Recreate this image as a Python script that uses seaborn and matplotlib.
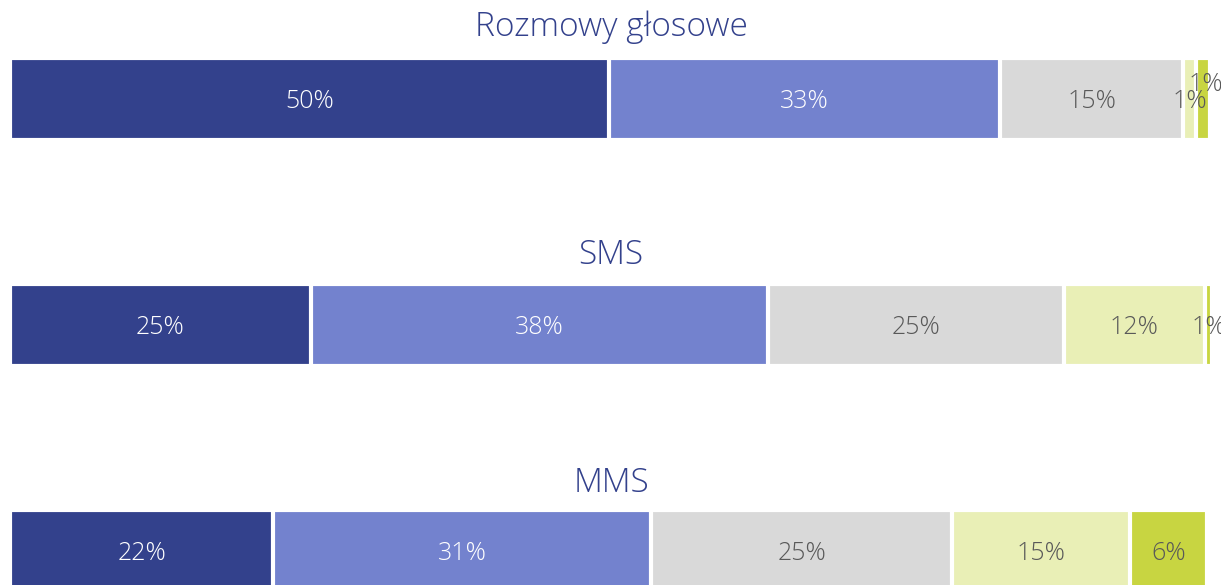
import numpy as np
import pandas as pd
import seaborn as sns
import matplotlib.pyplot as plt

# Data
titles = ['Rozmowy głosowe', 'SMS', 'MMS']
rozmowy = [49.8, 32.6, 15.2, 1.1, 1.1]
sms = [25.0, 38.1, 24.6, 11.7, 0.6]
mms = [21.9, 31.4, 25.1, 14.8, 6.4]
series = [rozmowy, sms, mms]

colors = ['#33418C', '#7382CE', '#D9D9D9', '#E9EFB6', '#C8D541']
label_colors = ['white', 'white', '#595959', '#595959', '#595959']
title_color = '#33418C'

sns.set_theme(style='white')
plt.rcParams['font.family'] = ['Open Sans', 'DejaVu Sans']

fig = plt.figure(figsize=(12.21, 5.85), dpi=100)

W, H = 1221, 585
left_px, width_px = 10, 1202
bar_tops = [58, 284, 510]
bar_h = 82
title_y = [27, 255, 483]

for i, (name, vals) in enumerate(zip(titles, series)):
    top = bar_tops[i]
    ax = fig.add_axes([left_px / W, (H - top - bar_h) / H, width_px / W, bar_h / H])
    cum = np.cumsum(vals)
    # stacked bar: draw cumulative totals from largest to smallest
    for j in range(len(vals) - 1, -1, -1):
        df = pd.DataFrame({'value': [cum[j]], 'row': [name]})
        sns.barplot(data=df, x='value', y='row', orient='h', color=colors[j],
                    saturation=1, width=1.0, edgecolor='white', linewidth=3, ax=ax)
    starts = np.concatenate([[0], cum[:-1]])
    for j, v in enumerate(vals):
        dy, dx = 0.03, 0
        if i == 0 and j == 4:
            dy, dx = -0.18, 0.25
        ax.text(starts[j] + v / 2 + dx, dy, f'{round(v)}%', ha='center', va='center',
                color=label_colors[j], fontsize=18, fontweight='light')
    ax.set_xlim(0, 100)
    ax.set_ylim(0.5, -0.5)
    ax.set_axis_off()
    fig.text((left_px + width_px / 2) / W, 1 - title_y[i] / H, name, ha='center', va='center',
             color=title_color, fontsize=24, fontweight='light')

plt.savefig('out.png', dpi=100)
